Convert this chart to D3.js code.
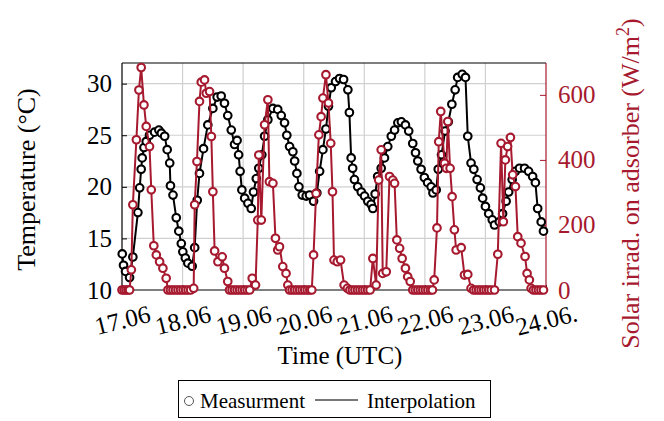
<!DOCTYPE html>
<html><head><meta charset="utf-8">
<script src="https://cdn.jsdelivr.net/npm/d3@7"></script>
<style>body{margin:0;background:#fff}svg{display:block}text{font-family:"Liberation Serif","Times New Roman",serif}</style>
</head><body><svg id="c" width="664" height="421"></svg>
<script>
// ---- data ----
const dayLabels = ["17.06","18.06","19.06","20.06","21.06","22.06","23.06","24.06."];
const dayTicks = [0,24,48,72,96,120,144,168]; // hours since 17.06 00:00
const tempTicks = [10,15,20,25,30];
const solarTicks = [0,200,400,600];

const tempHours = [0.1,0.6,1.4,3.0,4.3,6.3,7.0,7.6,8.0,8.7,9.6,10.9,12.9,14.6,15.6,16.9,17.9,18.9,19.2,20.2,21.5,22.5,23.5,24.1,25.1,26.1,27.8,28.8,29.8,30.7,32.3,34.0,36.0,37.7,39.3,40.6,41.9,43.3,44.6,45.6,46.2,46.8,47.5,48.6,49.9,51.2,52.1,53.2,54.2,55.4,56.5,57.8,59.8,61.7,63.1,64.4,65.3,66.4,67.7,68.4,69.3,70.1,71.4,73.0,74.3,75.9,77.2,78.3,79.6,80.8,81.8,82.9,84.6,86.2,87.8,89.5,90.1,90.8,91.4,92.1,93.4,94.8,96.1,97.4,98.7,99.4,100.3,101.3,102.7,104.0,105.3,106.7,108.0,109.3,110.7,112.3,113.6,115.2,116.3,117.2,118.5,119.8,121.1,122.5,123.2,124.5,125.3,126.6,128.0,129.3,130.7,132.0,133.0,134.8,136.1,137.0,138.3,139.4,140.7,142.0,142.9,144.0,145.3,146.7,147.6,149.5,150.8,152.2,153.2,154.6,155.9,157.5,159.5,161.1,162.7,163.8,164.7,166.1,167.0];
const tempValues = [13.5,12.4,11.8,11.2,13.2,17.5,19.9,21.7,22.8,23.8,24.4,25.0,25.3,25.5,25.2,24.9,23.6,22.3,20.1,19.2,17.0,15.7,14.5,13.7,13.1,12.6,12.3,14.1,18.7,21.3,23.7,26.0,27.6,28.7,28.8,28.1,26.9,25.5,24.1,24.5,23.1,21.5,19.7,18.9,18.4,17.9,19.5,20.8,21.8,23.1,24.9,26.5,27.6,27.5,26.9,26.2,25.0,23.9,23.4,22.5,21.3,20.0,19.2,19.1,19.2,18.6,19.4,21.5,23.6,25.6,27.8,29.6,30.2,30.5,30.4,29.4,27.2,22.8,21.8,20.7,20.0,19.5,19.1,18.6,18.3,17.9,19.3,21.0,21.8,22.8,23.9,24.9,25.5,26.2,26.3,26.0,25.4,24.2,23.3,22.5,21.7,20.9,20.4,20.0,19.4,19.7,21.7,23.1,25.4,26.3,28.0,29.4,30.6,30.9,30.6,24.9,22.3,21.7,20.7,19.9,18.9,18.1,17.4,16.8,16.3,16.6,17.4,18.6,19.5,20.7,21.5,21.8,21.8,21.5,21.0,20.4,17.9,16.6,15.7];

const solarHours = [0.0,0.8,1.6,2.4,3.0,3.7,4.3,5.7,6.7,7.6,8.7,9.6,10.9,11.6,12.6,13.6,14.9,16.2,17.5,18.2,19.2,20.2,21.2,22.2,23.2,24.2,25.2,26.2,27.2,28.4,28.8,29.7,30.7,31.4,32.7,33.4,34.7,35.4,36.0,36.7,38.0,39.7,40.6,41.9,42.6,43.6,44.6,45.6,46.6,47.6,48.6,49.6,50.6,51.6,52.9,53.8,54.2,55.2,56.5,57.8,58.4,59.8,60.8,61.7,62.4,63.7,65.0,65.7,66.4,67.4,68.4,69.4,70.4,71.4,72.4,73.4,74.4,75.2,75.9,76.9,78.0,78.9,79.6,80.8,81.8,82.7,83.4,84.0,85.3,86.6,88.0,89.3,90.3,91.3,92.3,93.3,94.3,95.3,96.3,97.3,98.3,99.4,100.7,101.7,102.7,103.3,104.7,106.0,107.3,108.0,108.9,110.0,111.0,112.3,113.2,114.2,115.2,116.2,117.2,118.2,119.2,120.2,121.2,122.2,123.0,123.7,124.8,125.5,126.3,127.8,128.5,129.1,130.0,130.8,131.7,132.4,134.4,135.7,137.0,138.3,139.3,140.3,141.3,142.3,143.3,144.3,145.3,146.3,147.6,148.9,150.2,151.1,151.9,152.8,153.9,154.8,155.9,156.8,158.1,159.7,160.5,161.4,162.1,163.0,164.0,165.0,166.0,167.0];
const solarValues = [0,0,0,0,0,62,262,462,615,684,569,503,441,308,136,108,87,67,36,0,0,0,0,0,0,0,0,0,0,5,262,395,580,639,646,605,610,472,302,120,87,102,67,26,0,0,0,0,0,0,0,0,0,36,15,215,415,215,508,585,333,328,159,123,133,72,51,15,0,0,0,0,0,0,0,0,0,0,108,297,477,533,590,662,575,451,302,92,87,92,15,5,0,0,0,0,0,0,0,0,0,97,15,338,431,51,56,349,338,328,154,128,97,67,41,26,0,0,0,0,0,0,0,0,0,31,191,456,549,390,374,518,374,287,185,123,130,46,48,5,0,0,0,0,0,0,0,0,0,110,451,210,400,441,469,354,318,164,144,103,51,31,5,0,0,0,0,0];

// ---- layout ----
const L = 122, R = 546, T = 63, B = 290;
const red = "#a6192e";
const svg = d3.select("#c");
const x = d3.scaleLinear().domain([0,168]).range([L,R]);
const yT = d3.scaleLinear().domain([10,32]).range([B,T]);
const yS = d3.scaleLinear().domain([0,698]).range([B,T]);

// grid
const g = svg.append("g");
g.selectAll(".gx").data(dayTicks.slice(1,-1)).join("line")
  .attr("x1",d=>x(d)).attr("x2",d=>x(d)).attr("y1",T).attr("y2",B)
  .attr("stroke","#d0d0d0").attr("stroke-width",1.2);
g.selectAll(".gy").data(tempTicks.slice(1)).join("line")
  .attr("x1",L).attr("x2",R).attr("y1",d=>yT(d)).attr("y2",d=>yT(d))
  .attr("stroke","#d0d0d0").attr("stroke-width",1.2);

// left axis
const axL = svg.append("g").attr("transform",`translate(${L},0)`)
  .call(d3.axisLeft(yT).tickValues(tempTicks).tickSize(-5).tickPadding(10));
axL.select(".domain").remove();
axL.selectAll("line").attr("stroke","#000").attr("stroke-width",1);
axL.selectAll("text").attr("font-size",25).attr("fill","#000").attr("font-family","Liberation Serif");

// right axis
const axR = svg.append("g").attr("transform",`translate(${R},0)`)
  .call(d3.axisRight(yS).tickValues(solarTicks).tickSize(-6).tickPadding(12));
axR.select(".domain").remove();
axR.selectAll("line").attr("stroke",red).attr("stroke-width",1);
axR.selectAll("text").attr("font-size",25).attr("fill",red).attr("font-family","Liberation Serif");

// bottom axis ticks + rotated labels
const axB = svg.append("g").attr("transform",`translate(0,${B})`)
  .call(d3.axisBottom(x).tickValues(dayTicks).tickSize(-5).tickFormat((d,i)=>dayLabels[i]));
axB.select(".domain").remove();
axB.selectAll("line").attr("stroke","#000");
axB.selectAll("text").attr("font-size",25).attr("fill","#000").attr("font-family","Liberation Serif")
  .attr("text-anchor","middle").attr("dy",null).attr("y",null)
  .attr("dominant-baseline","central")
  .attr("transform","translate(0,30) rotate(-14)");

// frame
svg.append("line").attr("x1",L).attr("x2",R).attr("y1",T).attr("y2",T).attr("stroke","#000").attr("stroke-width",1.2);
svg.append("line").attr("x1",L).attr("x2",R).attr("y1",B).attr("y2",B).attr("stroke","#000").attr("stroke-width",1.2);
svg.append("line").attr("x1",L).attr("x2",L).attr("y1",T).attr("y2",B).attr("stroke","#000").attr("stroke-width",1.2);
svg.append("line").attr("x1",R).attr("x2",R).attr("y1",T).attr("y2",B).attr("stroke",red).attr("stroke-width",1.2);

// series
const tempData = tempHours.map((h,i)=>({h, v: tempValues[i]}));
const solarData = solarHours.map((h,i)=>({h, v: solarValues[i]}));

function series(data, yScale, color){
  const s = svg.append("g");
  s.append("path").datum(data)
    .attr("d", d3.line().x(d=>x(d.h)).y(d=>yScale(d.v)))
    .attr("fill","none").attr("stroke",color).attr("stroke-width",2).attr("stroke-linejoin","round");
  s.selectAll("circle").data(data).join("circle")
    .attr("cx",d=>x(d.h)).attr("cy",d=>yScale(d.v)).attr("r",3.8)
    .attr("fill","#fff").attr("stroke",color).attr("stroke-width",2.1);
}
series(tempData, yT, "#000");
series(solarData, yS, red);

// axis titles
svg.append("text").attr("transform",`translate(35,${(T+B)/2+3}) rotate(-90)`)
  .attr("text-anchor","middle").attr("font-size",26).text("Temperature (°C)");
svg.append("text").attr("x",(L+R)/2 + 6).attr("y",364)
  .attr("text-anchor","middle").attr("font-size",25).text("Time (UTC)");
const rt = svg.append("text").attr("transform",`translate(639,${(T+B)/2+7}) rotate(-90)`)
  .attr("text-anchor","middle").attr("font-size",26).attr("fill",red);
rt.append("tspan").text("Solar irrad. on adsorber (W/m");
rt.append("tspan").attr("font-size",18).attr("dy",-10).text("2");
rt.append("tspan").attr("dy",10).text(")");

// legend
const lg = svg.append("g");
lg.append("rect").attr("x",178.5).attr("y",380.5).attr("width",312).attr("height",37)
  .attr("fill","#fff").attr("stroke","#000").attr("stroke-width",1);
lg.append("circle").attr("cx",189).attr("cy",401).attr("r",4.5).attr("fill","#fff").attr("stroke","#555").attr("stroke-width",1);
lg.append("text").attr("x",200).attr("y",408).attr("font-size",21).text("Measurment");
lg.append("line").attr("x1",315).attr("x2",358).attr("y1",400).attr("y2",400).attr("stroke","#777").attr("stroke-width",2);
lg.append("text").attr("x",367).attr("y",408).attr("font-size",21).text("Interpolation");
</script></body></html>
